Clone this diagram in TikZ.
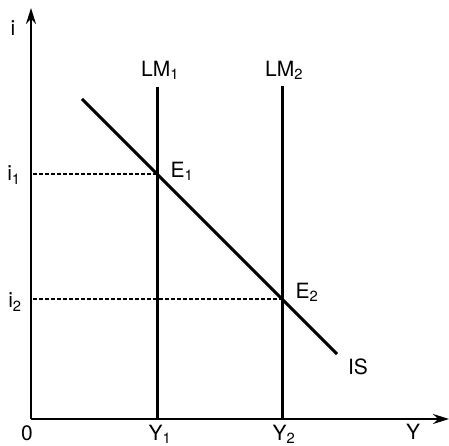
\documentclass[tikz,border=0pt]{standalone}
\usepackage{fontspec}
\setmainfont{TeX Gyre Heros}
\usetikzlibrary{arrows.meta}
\begin{document}
\begin{tikzpicture}[x=1pt,y=-1pt,
  lbl/.style={font=\fontsize{21}{23}\selectfont, inner sep=0pt},
  axisline/.style={line width=2.2pt, -{Stealth[length=16pt,width=10pt]}},
  curve/.style={line width=3pt},
  guide/.style={line width=1.2pt, dash pattern=on 3.5pt off 2.5pt}]
\useasboundingbox (0,0) rectangle (449,446);
\coordinate (O) at (31,419);
\coordinate (ytop) at (31,8);
\coordinate (xend) at (449,419);
\coordinate (LMoneTop) at (157,87);
\coordinate (LMoneBot) at (157,419);
\coordinate (LMtwoTop) at (282,86);
\coordinate (LMtwoBot) at (282,419);
\coordinate (ISa) at (82,99);
\coordinate (ISb) at (337,354);
\coordinate (E1) at (157,174);
\coordinate (E2) at (282,299);
\coordinate (ione) at (33,174);
\coordinate (itwo) at (33,299);
\draw[axisline] (O) -- (ytop);
\draw[axisline] (O) -- (xend);
\draw[guide] (ione) -- (E1);
\draw[guide] (itwo) -- (E2);
\draw[curve] (LMoneTop) -- (LMoneBot);
\draw[curve] (LMtwoTop) -- (LMtwoBot);
\draw[curve] (ISa) -- (ISb);
\node[lbl] (li) at (13,28) {i};
\node[lbl] (lione) at (14,175) {i\textsubscript{1}};
\node[lbl] (litwo) at (15,302) {i\textsubscript{2}};
\node[lbl] (lLMone) at (160,70) {LM\textsubscript{1}};
\node[lbl] (lLMtwo) at (284,70) {LM\textsubscript{2}};
\node[lbl] (lEone) at (182,171) {E\textsubscript{1}};
\node[lbl] (lEtwo) at (307,292) {E\textsubscript{2}};
\node[lbl] (lIS) at (358,367) {IS};
\node[lbl] (lzero) at (27,433) {0};
\node[lbl] (lYone) at (160,434) {Y\textsubscript{1}};
\node[lbl] (lYtwo) at (284,434) {Y\textsubscript{2}};
\node[lbl] (lY) at (413,432) {Y};
\end{tikzpicture}
\end{document}
